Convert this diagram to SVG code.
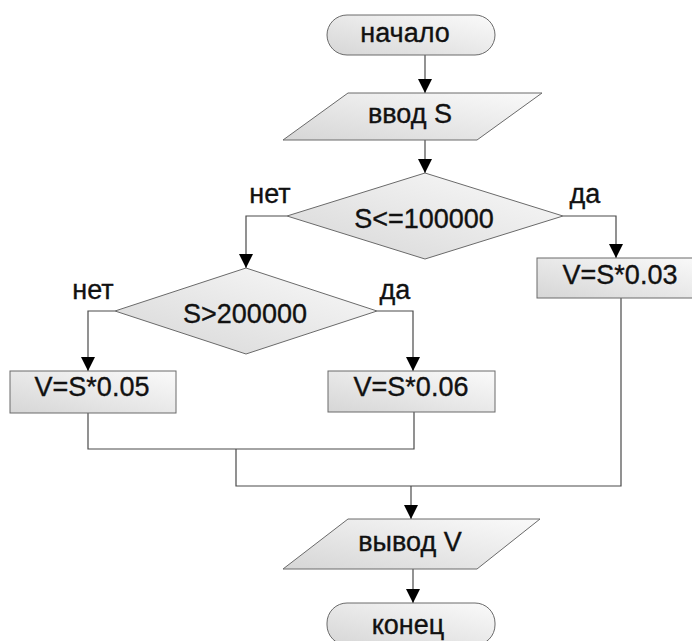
<svg xmlns="http://www.w3.org/2000/svg" width="692" height="641" viewBox="0 0 692 641">
<defs>
<linearGradient id="g" x1="0" y1="1" x2="1" y2="0">
<stop offset="0" stop-color="#d6d6d6"/>
<stop offset="0.6" stop-color="#ececec"/>
<stop offset="1" stop-color="#fafafa"/>
</linearGradient>
<marker id="av" markerUnits="userSpaceOnUse" markerWidth="14" markerHeight="14" viewBox="0 0 14 14" refX="14" refY="7" orient="auto">
<path d="M0,0 L14,7 L0,14 Z" fill="#000"/>
</marker>
</defs>
<style>
.s{fill:url(#g);stroke:#6a6a6a;stroke-width:1}
.c{fill:none;stroke:#4a4a4a;stroke-width:1.2}
.a{marker-end:url(#av)}
text{font-family:"Liberation Sans",Arial,sans-serif;font-size:27px;fill:#111;stroke:#111;stroke-width:0.35;text-anchor:middle}
</style>
<rect width="692" height="641" fill="#fff"/>
<g id="connectors">
<path class="c a" d="M425,55 V93"/>
<path class="c a" d="M425,140 V173"/>
<path class="c a" d="M287,216 H246 V268"/>
<path class="c a" d="M563,216 H616 V258"/>
<path class="c a" d="M115,311 H88 V371"/>
<path class="c a" d="M377,311 H413 V371"/>
<path class="c" d="M88,413 V449 H414 V412"/>
<path class="c" d="M236,449 V486 H621 V298"/>
<path class="c a" d="M411,486 V519"/>
<path class="c a" d="M413,569 V603"/>
</g>
<g id="start">
<rect class="s" x="327" y="15" width="168" height="40" rx="20"/>
<text x="405" y="42">начало</text>
</g>
<g id="input">
<polygon class="s" points="348,93 542,93 477,140 283,140"/>
<text x="410" y="123">ввод S</text>
</g>
<g id="dec1">
<polygon class="s" points="425,173 563,216 425,259 287,216"/>
<text x="424" y="228">S&lt;=100000</text>
<text x="270" y="203">нет</text>
<text x="585" y="203">да</text>
</g>
<g id="v003">
<rect class="s" x="537" y="258" width="166" height="40"/>
<text x="620" y="284">V=S*0.03</text>
</g>
<g id="dec2">
<polygon class="s" points="246,268 377,311 246,354 115,311"/>
<text x="245" y="323">S&gt;200000</text>
<text x="93" y="299">нет</text>
<text x="395" y="299">да</text>
</g>
<g id="v005">
<rect class="s" x="10" y="371" width="166" height="42"/>
<text x="92" y="396">V=S*0.05</text>
</g>
<g id="v006">
<rect class="s" x="328" y="371" width="167" height="41"/>
<text x="411" y="396">V=S*0.06</text>
</g>
<g id="output">
<polygon class="s" points="348,519 540,519 477,569 283,569"/>
<text x="410" y="551">вывод V</text>
</g>
<g id="end">
<rect class="s" x="327" y="603" width="168" height="42" rx="20"/>
<text x="408" y="634">конец</text>
</g>
</svg>
